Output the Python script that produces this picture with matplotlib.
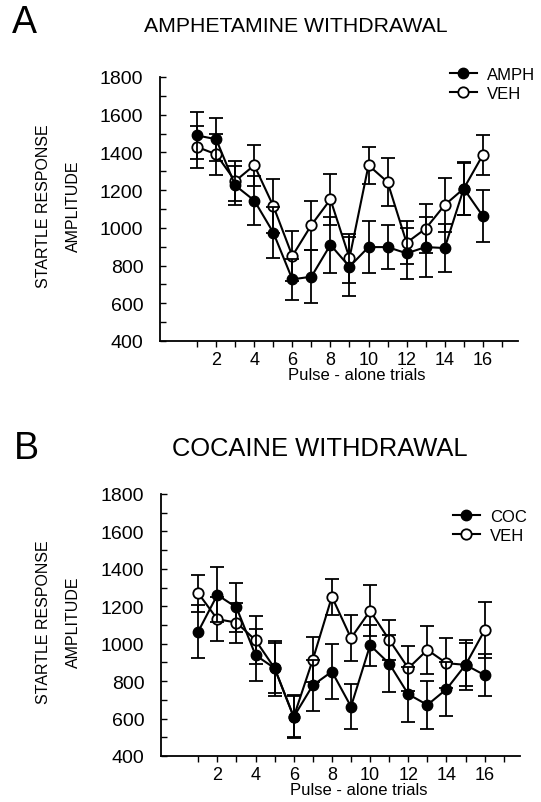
import matplotlib
matplotlib.use("Agg")
import matplotlib.pyplot as plt
from matplotlib.ticker import MultipleLocator, FixedLocator

plt.rcParams['font.family'] = ['Liberation Sans', 'DejaVu Sans']

trials = list(range(1, 17))

# panel A - amphetamine withdrawal
amph = [1490, 1470, 1225, 1145, 975, 727, 741, 910, 794, 898, 898, 865, 898, 893, 1208, 1063]
amph_err = [125, 115, 105, 130, 137, 110, 140, 150, 155, 137, 115, 135, 157, 127, 138, 137]
veh_a = [1429, 1390, 1248, 1332, 1116, 851, 1015, 1151, 840, 1332, 1243, 921, 996, 1121, 1208, 1386]
veh_a_err = [113, 110, 107, 110, 145, 132, 130, 136, 130, 97, 129, 115, 130, 145, 140, 108]

# panel B - cocaine withdrawal
coc = [1065, 1261, 1194, 939, 869, 609, 778, 851, 664, 992, 894, 730, 673, 757, 887, 832]
coc_err = [142, 147, 130, 138, 148, 115, 137, 146, 119, 110, 150, 148, 130, 143, 115, 111]
veh_b = [1270, 1131, 1113, 1019, 869, 609, 915, 1251, 1030, 1176, 1021, 869, 967, 896, 887, 1072]
veh_b_err = [98, 116, 107, 130, 134, 110, 122, 95, 124, 137, 107, 120, 130, 132, 135, 150]

W, H = 541, 803
fig = plt.figure(figsize=(W / 100, H / 100), dpi=100)


def panel(rect, drug, drug_err, veh, veh_err, drug_name, leg_xy, ylab_y):
    ax = fig.add_axes(rect)
    v = ax.errorbar(trials, veh, yerr=veh_err, color='black', lw=1.5, elinewidth=1.3,
                    capsize=5, capthick=1.3, marker='o', ms=7.5, mfc='white', mec='black',
                    mew=1.3, zorder=3)
    d = ax.errorbar(trials, drug, yerr=drug_err, color='black', lw=1.5, elinewidth=1.3,
                    capsize=5, capthick=1.3, marker='o', ms=7.5, mfc='black', mec='black',
                    zorder=4)
    ax.set_xlim(-0.95, 17.85)
    ax.set_ylim(400, 1800)
    ax.spines['top'].set_visible(False)
    ax.spines['right'].set_visible(False)
    ax.spines['left'].set_linewidth(1.3)
    ax.spines['bottom'].set_linewidth(1.3)
    ax.xaxis.set_major_locator(FixedLocator(range(2, 17, 2)))
    ax.xaxis.set_minor_locator(FixedLocator(range(1, 18, 2)))
    ax.yaxis.set_major_locator(MultipleLocator(200))
    ax.yaxis.set_minor_locator(MultipleLocator(100))
    ax.tick_params(axis='y', which='both', direction='in', length=4, width=1, labelsize=14, pad=12)
    ax.tick_params(axis='x', which='both', direction='out', length=4, width=1, labelsize=13, pad=3)
    ax.set_xlabel('Pulse - alone trials', fontsize=12)
    ax.xaxis.set_label_coords(0.55, -0.1)
    ax.legend([d[0], v[0]], [drug_name, 'VEH'], loc='center left', bbox_to_anchor=leg_xy,
              bbox_transform=fig.transFigure, frameon=False, fontsize=12,
              handlelength=1.6, handletextpad=0.6, borderpad=0, borderaxespad=0,
              labelspacing=0.25)
    fig.text(43 / W, 1 - ylab_y / H, 'STARTLE RESPONSE', rotation=90, ha='center',
             va='center', fontsize=11.5)
    fig.text(73 / W, 1 - ylab_y / H, 'AMPLITUDE', rotation=90, ha='center',
             va='center', fontsize=11.5)
    return ax


panel([160 / W, 1 - 342 / H, 358 / W, 264 / H], amph, amph_err, veh_a, veh_a_err,
      'AMPH', (450 / W, 1 - 85 / H), 206)
panel([161 / W, 1 - 757 / H, 359 / W, 262 / H], coc, coc_err, veh_b, veh_b_err,
      'COC', (453 / W, 1 - 527 / H), 622)

fig.text(24 / W, 1 - 23 / H, 'A', fontsize=27, ha='center', va='center')
fig.text(296 / W, 1 - 27 / H, 'AMPHETAMINE WITHDRAWAL', fontsize=15.3, ha='center',
         va='center')
fig.text(26 / W, 1 - 449 / H, 'B', fontsize=27, ha='center', va='center')
fig.text(320 / W, 1 - 449 / H, 'COCAINE WITHDRAWAL', fontsize=18.4, ha='center', va='center')

fig.savefig('out.png', dpi=100)
